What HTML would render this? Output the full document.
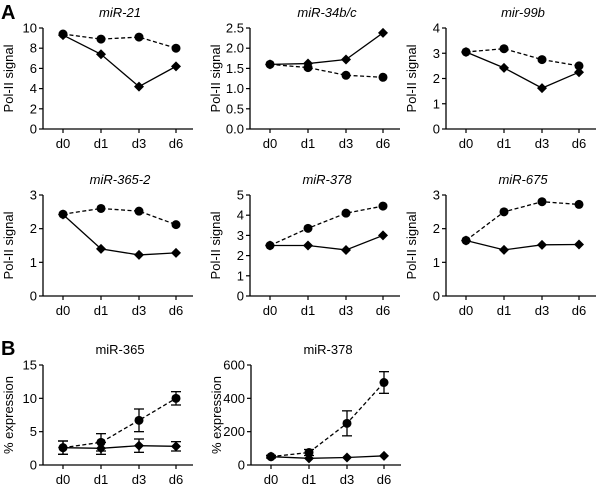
<!DOCTYPE html>
<html><head><meta charset="utf-8"><style>
html,body{margin:0;padding:0;background:#fff;}
svg{display:block;font-family:"Liberation Sans",sans-serif;}
</style></head><body>
<svg id="fig" width="600" height="484" viewBox="0 0 600 484">
<text x="1" y="19" font-size="20" font-weight="bold">A</text>
<text x="1" y="355" font-size="20" font-weight="bold">B</text>
</svg>
<script>
const days = ["d0","d1","d3","d6"];
const t21 = [0,2,4,6,8,10];
const s21 = [9.3,7.4,4.2,6.2];
const d21 = [9.4,8.9,9.1,8.0];
const t34 = ["0.0","0.5","1.0","1.5","2.0","2.5"];
const s34 = [1.6,1.62,1.72,2.38];
const d34 = [1.6,1.52,1.33,1.28];
const t99 = [0,1,2,3,4];
const s99 = [3.05,2.42,1.62,2.25];
const d99 = [3.05,3.18,2.75,2.5];
const t365 = [0,1,2,3];
const s365 = [2.42,1.4,1.22,1.28];
const d365 = [2.43,2.6,2.52,2.12];
const t378 = [0,1,2,3,4,5];
const s378 = [2.5,2.5,2.28,3.0];
const d378 = [2.5,3.35,4.1,4.45];
const t675 = [0,1,2,3];
const s675 = [1.65,1.37,1.52,1.53];
const d675 = [1.65,2.5,2.8,2.72];
const tB365 = [0,5,10,15];
const sB365 = [2.6,2.5,2.9,2.8];
const sB365err = [1,0.9,1,0.7];
const dB365 = [2.6,3.4,6.7,10];
const dB365err = [1,1.3,1.7,1];
const tB378 = [0,200,400,600];
const sB378 = [50,40,45,55];
const sB378err = [0,0,0,0];
const dB378 = [50,75,250,495];
const dB378err = [8,18,75,65];

const NS="http://www.w3.org/2000/svg";
const svg=document.getElementById('fig');
function mk(tag,attrs,parent){const e=document.createElementNS(NS,tag);for(const k in attrs)e.setAttribute(k,attrs[k]);(parent||svg).appendChild(e);return e;}

function panel(o){
  const g=mk('g',{});
  
  
  const ymax=parseFloat(o.ticks[o.ticks.length-1]);
  const y=v=>o.y0-(v/ymax)*(o.y0-o.y1);
  const x=i=>o.x0+20+i*((o.xEnd-o.x0-34)/3)*(i===3?1:1);
  const xs=[o.x0+20,o.x0+58,o.x0+96,o.x0+133];
  const X=i=>xs[i];
  const ya=mk('line',{x1:o.x0,y1:o.y1,x2:o.x0,y2:o.y0,stroke:'#000','stroke-width':1.3},g);
  
  const xa=mk('line',{x1:o.x0,y1:o.y0,x2:o.x0+150,y2:o.y0,stroke:'#000','stroke-width':1.3},g);
  
  o.ticks.forEach(t=>{
    const yy=y(parseFloat(t));
    mk('line',{x1:o.x0-4,y1:yy,x2:o.x0,y2:yy,stroke:'#000','stroke-width':1.2},g);
    const tx=mk('text',{x:o.x0-6,y:yy+4.5,'font-size':13,'text-anchor':'end'},g);
    tx.textContent=t;
    
    
  });
  days.forEach((d,i)=>{
    mk('line',{x1:X(i),y1:o.y0,x2:X(i),y2:o.y0+4,stroke:'#000','stroke-width':1.2},g);
    const tx=mk('text',{x:X(i),y:o.y0+19,'font-size':13,'text-anchor':'middle'},g);
    tx.textContent=d;
    
    
  });
  const ttl=mk('text',{x:o.x0+77,y:o.y1-11,'font-size':13,'text-anchor':'middle','font-style':o.italic?'italic':'normal'},g);
  ttl.textContent=o.title;
  
  
  const yl=mk('text',{x:0,y:0,'font-size':13,'text-anchor':'middle',transform:`translate(${o.x0-30},${(o.y0+o.y1)/2}) rotate(-90)`},g);
  yl.textContent=o.ylabel;
  
  
  function series(vals,errs,dashed,circle,nm){
    const pts=vals.map((v,i)=>X(i)+','+y(v)).join(' ');
    const pl=mk('polyline',{points:pts,fill:'none',stroke:'#000','stroke-width':1.3,'stroke-dasharray':dashed?'4,2.5':'none'},g);
    
    
    vals.forEach((v,i)=>{
      if(errs&&errs[i]>0){
        const a=y(v+errs[i]),b=y(v-errs[i]);
        mk('line',{x1:X(i),y1:a,x2:X(i),y2:b,stroke:'#000','stroke-width':1.3},g);
        mk('line',{x1:X(i)-5,y1:a,x2:X(i)+5,y2:a,stroke:'#000','stroke-width':1.3},g);
        mk('line',{x1:X(i)-5,y1:b,x2:X(i)+5,y2:b,stroke:'#000','stroke-width':1.3},g);
      }
      let m;
      if(circle) m=mk('circle',{cx:X(i),cy:y(v),r:4.5,fill:'#000'},g);
      else {const cx=X(i),cy=y(v);m=mk('polygon',{points:`${cx},${cy-5} ${cx+5},${cy} ${cx},${cy+5} ${cx-5},${cy}`,fill:'#000'},g);}
      
      
    });
  }
  series(o.d,o.de,true,true,'dashed-series');
  series(o.s,o.se,false,false,'solid-series');
}
const YL='Pol-II signal', YB='% expression';
panel({name:'chart-mir-21',x0:43,y0:129,y1:28,ticks:t21.map(String),s:s21,d:d21,title:'miR-21',italic:1,ylabel:YL});
panel({name:'chart-mir-34bc',x0:250,y0:129,y1:28,ticks:t34,s:s34,d:d34,title:'miR-34b/c',italic:1,ylabel:YL});
panel({name:'chart-mir-99b',x0:446,y0:129,y1:28,ticks:t99.map(String),s:s99,d:d99,title:'mir-99b',italic:1,ylabel:YL});
panel({name:'chart-mir-365-2',x0:43,y0:296,y1:195,ticks:t365.map(String),s:s365,d:d365,title:'miR-365-2',italic:1,ylabel:YL});
panel({name:'chart-mir-378',x0:250,y0:296,y1:195,ticks:t378.map(String),s:s378,d:d378,title:'miR-378',italic:1,ylabel:YL});
panel({name:'chart-mir-675',x0:446,y0:296,y1:195,ticks:t675.map(String),s:s675,d:d675,title:'miR-675',italic:1,ylabel:YL});
panel({name:'chart-b-mir-365',x0:43,y0:465,y1:365,ticks:tB365.map(String),s:sB365,se:sB365err,d:dB365,de:dB365err,title:'miR-365',italic:0,ylabel:YB});
panel({name:'chart-b-mir-378',x0:251,y0:465,y1:365,ticks:tB378.map(String),s:sB378,se:sB378err,d:dB378,de:dB378err,title:'miR-378',italic:0,ylabel:YB});
</script>
</body></html>
